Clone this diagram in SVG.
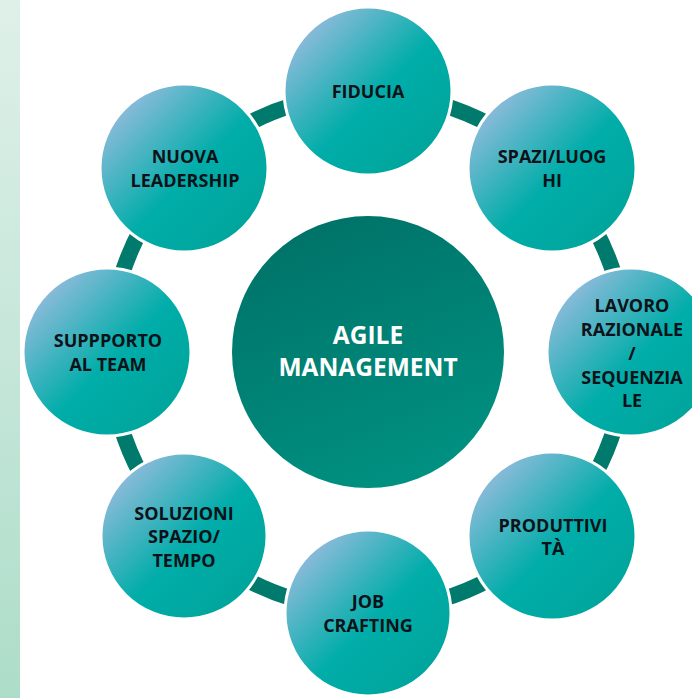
<svg xmlns="http://www.w3.org/2000/svg" width="692" height="698" viewBox="0 0 692 698">
  <defs>
    <linearGradient id="strip" x1="0" y1="0" x2="0" y2="1">
      <stop offset="0" stop-color="#DFF0E9"/>
      <stop offset="1" stop-color="#ADDDC9"/>
    </linearGradient>
    <linearGradient id="outer" x1="0.12" y1="0.12" x2="0.88" y2="0.88">
      <stop offset="0" stop-color="#92BBDC"/>
      <stop offset="0.55" stop-color="#00ADA9"/>
      <stop offset="1" stop-color="#00A59B"/>
    </linearGradient>
    <linearGradient id="core" x1="0.3" y1="0" x2="0.7" y2="1">
      <stop offset="0" stop-color="#007268"/>
      <stop offset="1" stop-color="#009282"/>
    </linearGradient>
  </defs>
  <style>
    .o { fill: url(#outer); stroke: #ffffff; stroke-width: 3; }
    .c { fill: url(#core); stroke: #ffffff; stroke-width: 2; }
    .t { font-family: "Open Sans", "Liberation Sans", sans-serif; font-weight: 700; font-size: 18px; fill: #0C1218; text-anchor: middle; }
    .tc { font-family: "Open Sans", "Liberation Sans", sans-serif; font-weight: 700; font-size: 24.5px; fill: #ffffff; text-anchor: middle; }
    .bar { fill: none; stroke: #007A6C; stroke-width: 16; }
  </style>
  <rect width="692" height="698" fill="#ffffff"/>
  <rect x="0" y="0" width="20" height="698" fill="url(#strip)"/>

  <g id="connectors">
    <path class="bar" d="M244.9 125.3 A258 258 0 0 1 294.7 104.6"/>
    <path class="bar" d="M441.3 104.6 A258 258 0 0 1 491.1 125.3"/>
    <path class="bar" d="M594.7 228.9 A258 258 0 0 1 615.4 278.7"/>
    <path class="bar" d="M615.4 425.3 A258 258 0 0 1 594.7 475.1"/>
    <path class="bar" d="M491.1 578.7 A258 258 0 0 1 441.3 599.4"/>
    <path class="bar" d="M294.7 599.4 A258 258 0 0 1 244.9 578.7"/>
    <path class="bar" d="M141.3 475.1 A258 258 0 0 1 120.6 425.3"/>
    <path class="bar" d="M120.6 278.7 A258 258 0 0 1 141.3 228.9"/>
  </g>

  <g id="center">
    <circle class="c" cx="368" cy="352" r="137"/>
    <text class="tc" x="368" y="344">AGILE</text>
    <text class="tc" x="368" y="376">MANAGEMENT</text>
  </g>

  <g id="fiducia">
    <circle class="o" cx="368" cy="91" r="84"/>
    <text class="t" x="368" y="98">FIDUCIA</text>
  </g>
  <g id="spazi">
    <circle class="o" cx="552" cy="168" r="84"/>
    <text class="t" x="552" y="163">SPAZI/LUOG</text>
    <text class="t" x="552" y="187">HI</text>
  </g>
  <g id="lavoro">
    <circle class="o" cx="631" cy="352" r="84"/>
    <text class="t" x="632" y="312">LAVORO</text>
    <text class="t" x="632" y="336">RAZIONALE</text>
    <text class="t" x="632" y="360">/</text>
    <text class="t" x="632" y="384">SEQUENZIA</text>
    <text class="t" x="632" y="407">LE</text>
  </g>
  <g id="produttivita">
    <circle class="o" cx="552" cy="536" r="84"/>
    <text class="t" x="553" y="532">PRODUTTIVI</text>
    <text class="t" x="553" y="555">TÀ</text>
  </g>
  <g id="job">
    <circle class="o" cx="368" cy="613" r="83"/>
    <text class="t" x="368" y="608">JOB</text>
    <text class="t" x="368" y="632">CRAFTING</text>
  </g>
  <g id="soluzioni">
    <circle class="o" cx="184" cy="536" r="83"/>
    <text class="t" x="184" y="520">SOLUZIONI</text>
    <text class="t" x="184" y="543">SPAZIO/</text>
    <text class="t" x="184" y="567">TEMPO</text>
  </g>
  <g id="supporto">
    <circle class="o" cx="107" cy="352" r="84"/>
    <text class="t" x="108" y="347">SUPPPORTO</text>
    <text class="t" x="108" y="371">AL TEAM</text>
  </g>
  <g id="nuova">
    <circle class="o" cx="184" cy="168" r="84"/>
    <text class="t" x="185" y="163">NUOVA</text>
    <text class="t" x="185" y="187">LEADERSHIP</text>
  </g>
</svg>
